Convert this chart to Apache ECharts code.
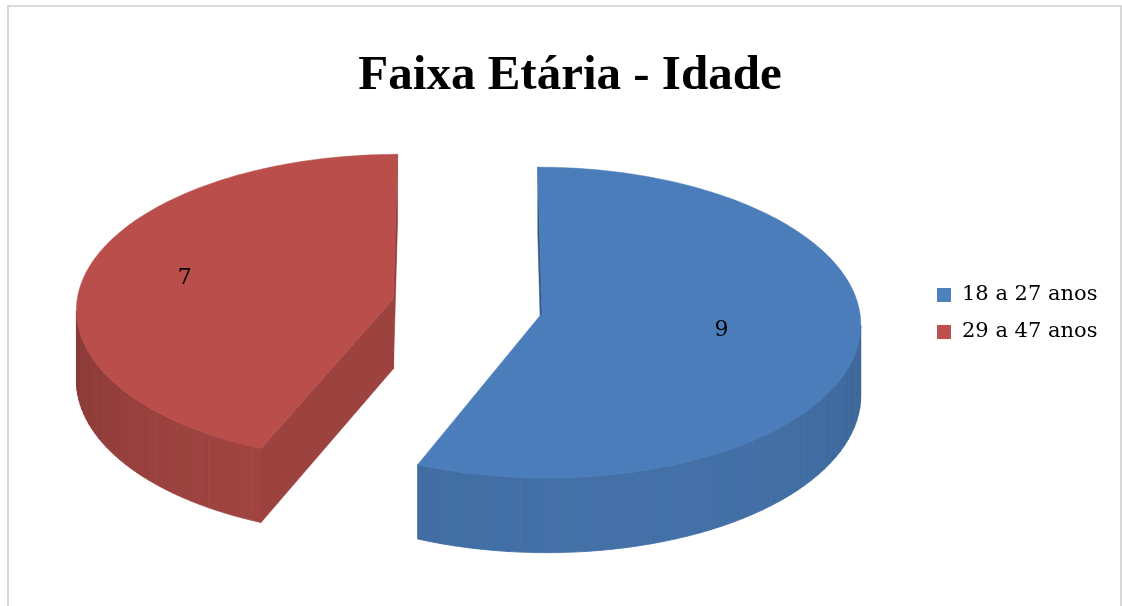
<!DOCTYPE html>
<html>
<head>
<meta charset="utf-8">
<script src="https://cdn.jsdelivr.net/npm/echarts@6/dist/echarts.min.js"></script>
<style>
html,body{margin:0;padding:0;background:#ffffff;}
#chart{width:1122px;height:606px;}
</style>
</head>
<body>
<div id="chart"></div>
<script>
// ---- data ----
const categories = ['18 a 27 anos', '29 a 47 anos'];
const values = [9, 7];

// ---- style ----
const topColors = ['#4a7dba', '#b94e4b'];
const legendColors = ['#4f81bd', '#c0504d'];
const labelDist = [0.57, 0.68];
const PIE = { cx: 467.5, cy: 306, rx: 317, ry: 154, depth: 70, persp: 0.06, explode: 0.239 };

function project(U, V, down) {
  const s = 1 / (1 - PIE.persp * V);
  return [PIE.cx + PIE.rx * U * s, PIE.cy + PIE.ry * V * s + (down ? PIE.depth * s : 0)];
}
function area(pts) {
  let a = 0;
  for (let i = 0; i < pts.length; i++) {
    const p = pts[i], q = pts[(i + 1) % pts.length];
    a += p[0] * q[1] - q[0] * p[1];
  }
  return a;
}
function hexToRgb(h) {
  return [parseInt(h.slice(1, 3), 16), parseInt(h.slice(3, 5), 16), parseInt(h.slice(5, 7), 16)];
}
function shade(hex, k) {
  const c = hexToRgb(hex).map(v => Math.max(0, Math.min(255, Math.round(v * k))));
  return 'rgb(' + c.join(',') + ')';
}
function bright(theta) {
  return 0.76 + 0.14 * Math.cos(theta - 165 * Math.PI / 180);
}

const total = values.reduce((a, b) => a + b, 0);

function renderSlice(params, api) {
  const idx = params.seriesIndex;
  let before = 0;
  for (let i = 0; i < idx; i++) before += values[i];
  const val = api.value(0);
  const a0 = before / total * Math.PI * 2;
  const a1 = (before + val) / total * Math.PI * 2;
  const mid = (a0 + a1) / 2;
  const u0 = PIE.explode * Math.sin(mid);
  const v0 = -PIE.explode * Math.cos(mid);
  const base = topColors[idx];
  const children = [];
  const pt = (th, down) => project(u0 + Math.sin(th), v0 - Math.cos(th), down);
  const ctrTop = project(u0, v0, false);
  const ctrBot = project(u0, v0, true);

  // radial walls
  const sw = [ctrTop, pt(a0, false), pt(a0, true), ctrBot];
  if (area(sw) < 0) {
    const col = shade(base, bright(a0 - Math.PI / 2));
    children.push({ type: 'polygon', shape: { points: sw }, style: { fill: col, stroke: col, lineWidth: 0.6 } });
  }
  const ew = [ctrTop, pt(a1, false), pt(a1, true), ctrBot];
  if (area(ew) > 0) {
    const col = shade(base, bright(a1 + Math.PI / 2));
    children.push({ type: 'polygon', shape: { points: ew }, style: { fill: col, stroke: col, lineWidth: 0.6 } });
  }
  // outer wall strips
  const N = 90;
  for (let i = 0; i < N; i++) {
    const t0 = a0 + (a1 - a0) * i / N;
    const t1 = a0 + (a1 - a0) * (i + 1) / N;
    const q = [pt(t0, false), pt(t1, false), pt(t1, true), pt(t0, true)];
    if (area(q) < 0) {
      const col = shade(base, bright((t0 + t1) / 2));
      children.push({ type: 'polygon', shape: { points: q }, style: { fill: col, stroke: col, lineWidth: 0.8 } });
    }
  }
  // top face
  const topPts = [ctrTop];
  const M = 160;
  for (let i = 0; i <= M; i++) topPts.push(pt(a0 + (a1 - a0) * i / M, false));
  children.push({ type: 'polygon', shape: { points: topPts }, style: { fill: base, stroke: base, lineWidth: 0.5 } });
  // label
  const f = labelDist[idx];
  const lp = project(u0 + f * Math.sin(mid), v0 - f * Math.cos(mid), false);
  children.push({
    type: 'text', x: lp[0], y: lp[1],
    style: { text: String(val), fill: '#000000', fontSize: 22, fontFamily: 'DejaVu Serif', align: 'center', verticalAlign: 'middle' }
  });
  return { type: 'group', children: children };
}

const chart = echarts.init(document.getElementById('chart'), null, { renderer: 'canvas' });
const series = categories.map((name, i) => ({
  type: 'custom',
  name: name,
  coordinateSystem: 'none',
  renderItem: renderSlice,
  itemStyle: { color: legendColors[i] },
  data: [{ value: values[i], name: name }],
  silent: true
}));

chart.setOption({
  animation: false,
  backgroundColor: '#ffffff',
  title: {
    text: 'Faixa Etária - Idade',
    left: 565,
    top: 47,
    textAlign: 'center',
    textStyle: { fontFamily: 'Liberation Serif', fontWeight: 'bold', fontSize: 49, color: '#000000' }
  },
  legend: {
    data: categories,
    orient: 'vertical',
    left: 932,
    top: 278,
    itemWidth: 14,
    itemHeight: 14,
    itemGap: 13,
    icon: 'rect',
    textStyle: { fontFamily: 'DejaVu Serif', fontSize: 21, color: '#000000', lineHeight: 24, padding: [0, 0, 0, 6] }
  },
  graphic: [{
    type: 'rect', silent: true, z: -10,
    shape: { x: 8, y: 6, width: 1113, height: 640 },
    style: { fill: 'none', stroke: '#d9d9d9', lineWidth: 2 }
  }],
  series: series
});
</script>
</body>
</html>
